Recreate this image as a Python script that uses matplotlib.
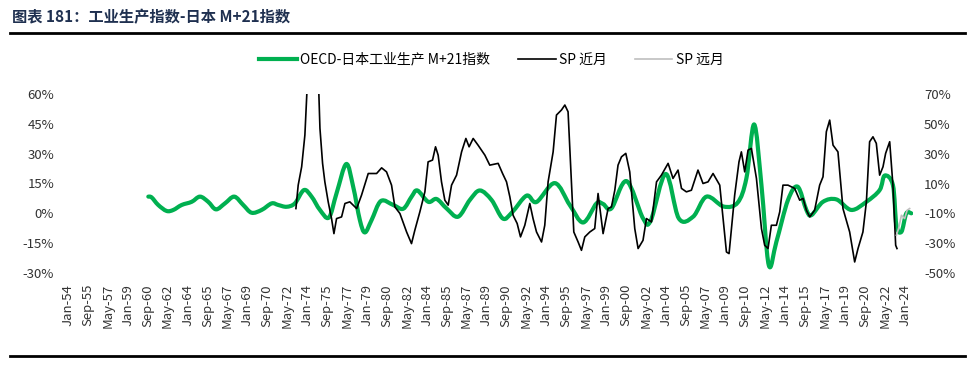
import numpy as np
import matplotlib
matplotlib.use("Agg")
import matplotlib.pyplot as plt
from matplotlib.lines import Line2D
from matplotlib.path import Path
from matplotlib.patches import PathPatch

plt.rcParams['font.family'] = ['Noto Sans CJK SC', 'DejaVu Sans']

# OECD-日本工业生产 M+21指数 (left axis, %)
oecd_year = [1960.72, 1961.00, 1961.55, 1962.25, 1962.81, 1963.51, 1964.35, 1965.04, 1965.73, 1966.38,
             1967.13, 1967.91, 1968.66, 1969.36, 1970.20, 1971.04, 1971.59, 1972.29, 1972.98, 1973.74,
             1974.38, 1975.08, 1975.83, 1976.47, 1977.28, 1977.86, 1978.42, 1978.84, 1979.40, 1980.18,
             1981.21, 1982.05, 1982.75, 1983.23, 1984.14, 1984.84, 1985.67, 1986.64, 1987.62, 1988.46,
             1989.44, 1990.38, 1991.14, 1992.37, 1993.20, 1994.73, 1995.98, 1997.10, 1998.22, 1998.77,
             1999.47, 2000.73, 2002.11, 2002.76, 2004.01, 2005.10, 2006.30, 2007.42, 2008.86, 2010.03,
             2010.76, 2011.41, 2012.02, 2012.63, 2013.27, 2014.24, 2015.05, 2015.78, 2016.20, 2017.17,
             2018.29, 2019.54, 2020.80, 2021.91, 2022.33, 2023.02, 2023.31, 2023.73, 2024.14, 2024.56]
oecd_val = [8.4, 8.0, 4.2, 1.2, 1.7, 4.2, 5.8, 8.4, 5.8, 2.0,
            5.0, 8.4, 4.2, 0.3, 1.7, 5.0, 4.2, 3.3, 5.0, 11.7,
            8.4, 1.7, -2.1, 10.1, 24.8, 13.4, -3.4, -9.6, -3.4, 6.2,
            4.2, 2.3, 8.4, 11.5, 5.8, 7.2, 2.5, -1.7, 6.7, 11.5,
            6.7, -2.6, 0.4, 8.9, 5.7, 15.2, 4.2, -4.6, 5.0, 4.7,
            2.5, 16.2, -2.5, -3.6, 19.8, -2.5, -1.7, 8.4, 3.4, 5.4,
            17.6, 44.7, 14.2, -26.0, -14.3, 6.7, 13.4, 1.7, -0.9, 5.8,
            7.0, 1.7, 5.8, 11.7, 19.0, 14.2, -5.9, -9.3, 0.0, 0.0]

# SP 近月 (right axis, %)
sp_year = [1973.07, 1973.26, 1973.55, 1973.82, 1974.10, 1974.50, 1974.93, 1975.08, 1975.30, 1975.49,
           1975.77, 1976.05, 1976.25, 1976.47, 1976.89, 1977.17, 1977.58, 1978.15, 1978.56, 1979.12,
           1979.82, 1980.24, 1980.65, 1981.07, 1981.35, 1981.77, 1982.33, 1982.74, 1983.02, 1983.44,
           1983.86, 1984.13, 1984.50, 1984.75, 1984.97, 1985.25, 1985.53, 1985.81, 1986.09, 1986.51,
           1986.93, 1987.29, 1987.56, 1987.90, 1988.31, 1988.88, 1989.29, 1989.99, 1990.36, 1990.69,
           1990.97, 1991.24, 1991.58, 1991.86, 1992.22, 1992.64, 1992.91, 1993.20, 1993.62, 1993.89,
           1994.17, 1994.59, 1994.87, 1995.29, 1995.57, 1995.84, 1996.13, 1996.32, 1996.68, 1996.96,
           1997.24, 1997.66, 1998.07, 1998.35, 1998.77, 1999.19, 1999.47, 1999.75, 2000.02, 2000.31,
           2000.67, 2001.00, 2001.42, 2001.70, 2002.11, 2002.40, 2002.82, 2003.24, 2003.65, 2004.21,
           2004.62, 2005.04, 2005.33, 2005.74, 2006.16, 2006.71, 2007.13, 2007.55, 2007.97, 2008.53,
           2009.09, 2009.31, 2009.78, 2010.14, 2010.34, 2010.62, 2010.90, 2011.18, 2011.60, 2012.02,
           2012.29, 2012.57, 2012.85, 2013.27, 2013.55, 2013.82, 2014.24, 2014.80, 2015.22, 2015.50,
           2015.78, 2016.06, 2016.47, 2016.89, 2017.17, 2017.45, 2017.73, 2018.01, 2018.42, 2018.84,
           2019.40, 2019.82, 2020.10, 2020.51, 2020.80, 2021.07, 2021.35, 2021.63, 2021.91, 2022.19,
           2022.41, 2022.75, 2023.02, 2023.25, 2023.36]
sp_val = [-6.8, 8.9, 21.2, 42.5, 90.0, 100.0, 85.0, 47.0, 23.5, 11.1,
          -2.3, -13.5, -23.6, -13.5, -12.4, -3.4, -2.3, -6.8, 2.2, 16.7,
          16.7, 20.5, 17.8, 8.9, -5.7, -10.1, -22.5, -30.3, -21.3, -9.0,
          4.4, 24.5, 25.7, 34.6, 29.0, 11.1, -1.2, -4.5, 8.9, 15.6,
          31.2, 40.2, 34.6, 40.2, 35.7, 29.0, 22.3, 23.5, 16.7, 11.1,
          1.0, -11.3, -16.8, -25.8, -18.0, -3.4, -13.5, -22.5, -29.2, -18.0,
          11.1, 31.2, 55.9, 59.3, 62.6, 58.1, 8.9, -22.5, -29.2, -34.8,
          -25.8, -22.5, -20.2, 3.3, -23.6, -6.8, -5.7, 5.5, 22.3, 27.9,
          30.2, 17.8, -20.2, -33.6, -28.1, -13.5, -15.8, 11.1, 15.6, 23.5,
          13.4, 19.0, 6.7, 4.4, 5.5, 19.0, 10.0, 11.1, 16.7, 8.9,
          -35.9, -37.0, 2.2, 24.5, 31.2, 17.8, 32.4, 33.5, 13.4, -20.2,
          -31.4, -33.6, -18.0, -18.0, -9.0, 8.9, 8.9, 6.7, -1.2, 0.0,
          -7.9, -12.4, -7.9, 8.9, 14.5, 44.7, 52.5, 35.7, 31.2, -6.8,
          -22.5, -42.6, -33.6, -22.5, -2.3, 38.0, 41.3, 36.9, 15.6, 21.2,
          30.2, 38.0, 8.9, -31.4, -33.6]

# SP 远月 (right axis, %)
far_year = [2023.31, 2023.50, 2023.73, 2024.00, 2024.21, 2024.42]
far_val = [-24.7, -20.0, -11.3, -13.5, -7.9, -6.8]

months = ['Jan', 'Feb', 'Mar', 'Apr', 'May', 'Jun', 'Jul', 'Aug', 'Sep', 'Oct', 'Nov', 'Dec']
tick_pos = []
tick_labels = []
for k in range(43):
    m = 20 * k
    tick_pos.append(1954 + m / 12)
    tick_labels.append(f"{months[m % 12]}-{(1954 + m // 12) % 100:02d}")


def smooth_path(xs, ys):
    # smoothed line like Excel's, bezier segments through the points
    p = np.column_stack([xs, ys]).astype(float)
    ext = np.vstack([p[0], p, p[-1]])
    verts = [p[0]]
    codes = [Path.MOVETO]
    for i in range(len(p) - 1):
        p0, p1, p2, p3 = ext[i], ext[i + 1], ext[i + 2], ext[i + 3]
        verts += [p1 + (p2 - p0) / 6, p2 - (p3 - p1) / 6, p2]
        codes += [Path.CURVE4] * 3
    return Path(verts, codes)


fig = plt.figure(figsize=(9.77, 3.65), dpi=100)
ax = fig.add_axes([68 / 977, 1 - 273 / 365, 845 / 977, 179 / 365])
ax2 = ax.twinx()

green = '#00B050'
ax.add_patch(PathPatch(smooth_path(oecd_year, oecd_val), facecolor='none', edgecolor=green,
                       lw=3.0, joinstyle='round', capstyle='round', zorder=2))
ax2.plot(sp_year, sp_val, color='black', lw=1.2, zorder=3)
ax2.plot(far_year, far_val, color='#BFBFBF', lw=1.2, zorder=3)

ax.set_xlim(1954.0, 2024.7)
ax.set_ylim(-30, 60)
ax2.set_ylim(-50, 70)
ax.set_yticks(np.arange(-30, 61, 15))
ax.set_yticklabels([f"{v}%" for v in range(-30, 61, 15)])
ax2.set_yticks(np.arange(-50, 71, 20))
ax2.set_yticklabels([f"{v}%" for v in range(-50, 71, 20)])
ax.set_xticks(tick_pos)
ax.set_xticklabels(tick_labels, rotation=90)

for a in (ax, ax2):
    for s in a.spines.values():
        s.set_visible(False)
    a.tick_params(length=0, labelsize=9.5, colors='#333333')
ax.tick_params(axis='y', pad=10)
ax2.tick_params(axis='y', pad=8)
ax.tick_params(axis='x', pad=8)

handles = [Line2D([], [], color=green, lw=3.0),
           Line2D([], [], color='black', lw=1.2),
           Line2D([], [], color='#BFBFBF', lw=1.2)]
fig.legend(handles, ['OECD-日本工业生产 M+21指数', 'SP 近月', 'SP 远月'],
           loc='center', bbox_to_anchor=(0.503, 0.836), ncol=3, frameon=False,
           fontsize=10, handlelength=2.7, handletextpad=0.25, columnspacing=2.0)

fig.text(0.012, 0.953, '图表 181：工业生产指数-日本 M+21指数', fontsize=11, fontweight='bold',
         color='#1F3050', ha='left', va='center')
fig.add_artist(Line2D([0.01, 0.988], [0.909, 0.909], color='black', lw=2))
fig.add_artist(Line2D([0.01, 0.988], [0.025, 0.025], color='black', lw=2))

fig.savefig('out.png', dpi=100)
